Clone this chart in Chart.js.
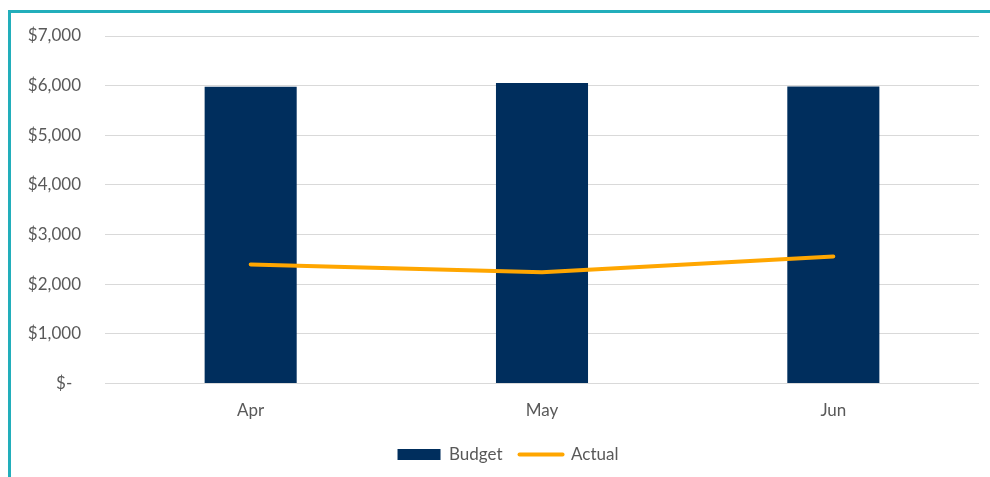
<!DOCTYPE html>
<html>
<head>
<meta charset="utf-8">
<script src="https://cdn.jsdelivr.net/npm/chart.js@4.4.1/dist/chart.umd.min.js"></script>
<style>
  html, body { margin: 0; padding: 0; background: #fff; width: 990px; height: 477px; overflow: hidden; }
  #frame { position: absolute; left: 8px; top: 10px; width: 979px; height: 464px;
           border-top: 3px solid #22AEBB; border-left: 3px solid #22AEBB; }
  #wrap { position: relative; width: 979px; height: 464px; }
</style>
</head>
<body>
<div id="frame"><div id="wrap"><canvas id="c"></canvas></div></div>
<script>
const categories = ['Apr', 'May', 'Jun'];
const budget = [5980, 6055, 5985];
const actual = [2400, 2240, 2560];
const yTicks = [0, 1000, 2000, 3000, 4000, 5000, 6000, 7000];

const FONT = 'Lato, "Liberation Sans", sans-serif';
const TEXT = '#595959';
const FS = 17;

function money(v) {
  if (v === 0) return '$-  ';
  return '$' + v.toLocaleString('en-US');
}

const legendShift = {
  id: 'legendShift',
  afterLayout(chart) {
    if (chart.legend) { chart.legend.left += 13; chart.legend.right += 13; }
  }
};

new Chart(document.getElementById('c'), {
  data: {
    labels: categories,
    datasets: [
      {
        type: 'bar',
        label: 'Budget',
        data: budget,
        backgroundColor: '#002E5D',
        borderWidth: 0,
        barPercentage: 1,
        categoryPercentage: 0.316,
        order: 2
      },
      {
        type: 'line',
        label: 'Actual',
        data: actual,
        borderColor: '#FFA600',
        backgroundColor: '#FFA600',
        borderWidth: 4,
        borderCapStyle: 'round',
        borderJoinStyle: 'round',
        pointRadius: 0,
        pointHoverRadius: 0,
        tension: 0,
        fill: false,
        order: 1
      }
    ]
  },
  plugins: [legendShift],
  options: {
    responsive: true,
    maintainAspectRatio: false,
    animation: false,
    devicePixelRatio: 1,
    layout: { padding: { top: 23, right: 11, bottom: 4, left: 0 } },
    plugins: {
      tooltip: { enabled: false },
      legend: {
        position: 'bottom',
        labels: {
          usePointStyle: true,
          pointStyleWidth: 43,
          boxHeight: 11,
          padding: 17,
          color: TEXT,
          font: { family: FONT, size: FS },
          sort: (a, b) => a.datasetIndex - b.datasetIndex,
          generateLabels: (chart) => chart.data.datasets.map((ds, i) => ({
            text: ds.label,
            datasetIndex: i,
            fillStyle: ds.type === 'bar' ? ds.backgroundColor : ds.borderColor,
            strokeStyle: ds.type === 'bar' ? ds.backgroundColor : ds.borderColor,
            lineWidth: ds.type === 'bar' ? 0 : 4,
            lineCap: 'round',
            pointStyle: ds.type === 'bar' ? 'rect' : 'line',
            fontColor: TEXT,
            hidden: false
          }))
        }
      }
    },
    scales: {
      x: {
        grid: { display: false },
        border: { display: false },
        ticks: { color: TEXT, font: { family: FONT, size: FS }, padding: 8.5 }
      },
      y: {
        min: 0,
        max: 7000,
        afterBuildTicks: (axis) => { axis.ticks = yTicks.map(v => ({ value: v })); },
        afterFit: (axis) => { axis.width = 94; },
        grid: { color: '#D9D9D9', lineWidth: 1, drawTicks: true, tickLength: 24, tickColor: 'rgba(0,0,0,0)' },
        border: { display: false },
        ticks: {
          color: TEXT,
          font: { family: FONT, size: FS },
          padding: 0,
          callback: (v) => money(v)
        }
      }
    }
  }
});
</script>
</body>
</html>
